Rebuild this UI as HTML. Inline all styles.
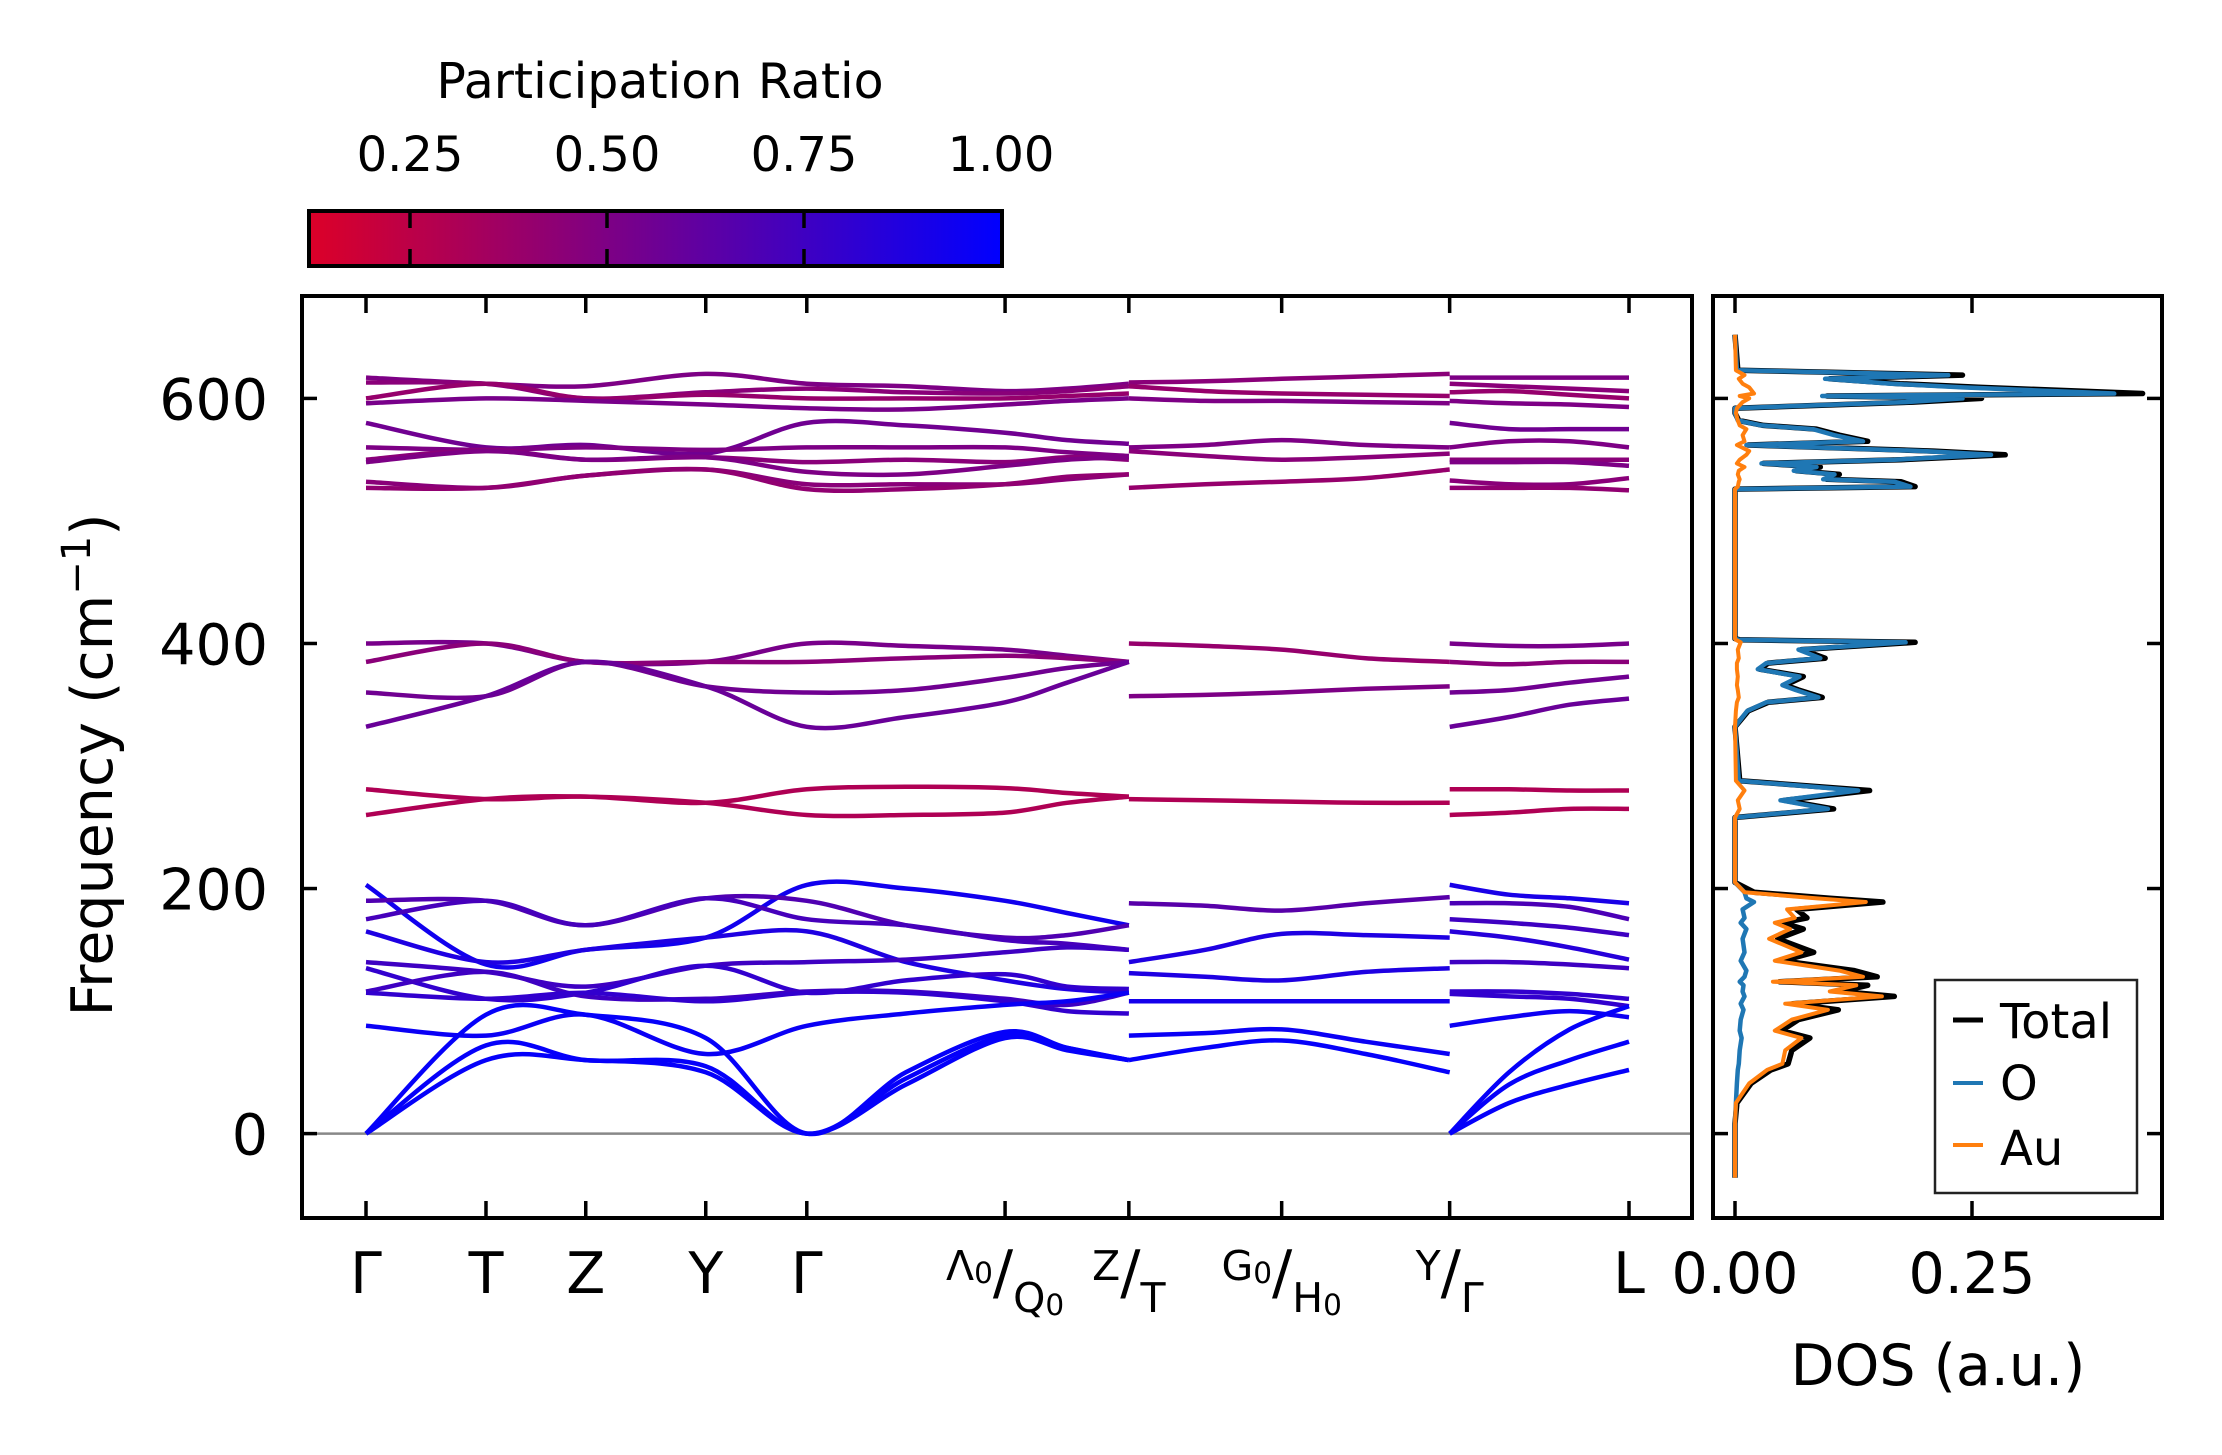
<!DOCTYPE html>
<html><head><meta charset="utf-8"><style>
html,body{margin:0;padding:0;background:#fff}
svg{display:block;font-family:"DejaVu Sans","Liberation Sans",sans-serif}
</style></head><body>
<svg id="fig" width="2222" height="1455" viewBox="0 0 2222 1455" xmlns="http://www.w3.org/2000/svg">
<defs>
<linearGradient id="cmap" x1="0" x2="1" y1="0" y2="0">
<stop offset="0" stop-color="#dc0028"/><stop offset="1" stop-color="#0000ff"/>
</linearGradient>
<clipPath id="mainclip"><rect x="302" y="296" width="1390" height="922"/></clipPath>
<clipPath id="dosclip"><rect x="1713" y="296" width="449" height="922"/></clipPath>
</defs>
<g id="colorbar">
<text x="660" y="98" font-size="49" text-anchor="middle">Participation Ratio</text>
<rect x="309" y="211" width="693" height="55" fill="url(#cmap)" stroke="#000" stroke-width="4"/>
<g id="cbticks"></g>
</g>
<g id="main">
<line x1="302" x2="1692" id="zeroline" stroke="#888" stroke-width="2.5"/>
<g id="bands" clip-path="url(#mainclip)"></g>
<rect x="302" y="296" width="1390" height="922" fill="none" stroke="#000" stroke-width="4"/>
<g id="mainticks"></g>
<text transform="translate(112,765) rotate(-90)" font-size="57" text-anchor="middle">Frequency (cm<tspan dy="-22" font-size="40">−1</tspan><tspan dy="22">)</tspan></text>
</g>
<g id="dos">
<g id="doslines" clip-path="url(#dosclip)"></g>
<rect x="1713" y="296" width="449" height="922" fill="none" stroke="#000" stroke-width="4"/>
<g id="dosticks"></g>
<text x="1938" y="1385" font-size="57" text-anchor="middle">DOS (a.u.)</text>
<g>
<rect x="1935" y="980" width="202" height="213" fill="#fff" stroke="#222" stroke-width="2.5"/>
<line x1="1953" x2="1983" y1="1020" y2="1020" stroke="#000" stroke-width="5"/>
<text x="2000" y="1038" font-size="48">Total</text>
<line x1="1953" x2="1983" y1="1083" y2="1083" stroke="#1f77b4" stroke-width="4"/>
<text x="2000" y="1100" font-size="48">O</text>
<line x1="1953" x2="1983" y1="1145" y2="1145" stroke="#ff7f0e" stroke-width="4"/>
<text x="2000" y="1165" font-size="48">Au</text>
</g>
</g>
</svg>
<script>
// ---- data ----
const kTicks = [0,0.095,0.174,0.269,0.349,0.506,0.604,0.725,0.858,1.0];
const kTickNames = ['Γ','T','Z','Y','Γ','Λ0/Q0','Z/T','G0/H0','Y/Γ','L'];
const yTicks = [0,200,400,600];
const cbTicks = [0.25,0.5,0.75,1.0];
const dosTicks = [0,0.25];

const segAk = [0,0.095,0.174,0.269,0.349,0.4275,0.506,0.555,0.604];
const segAbands = [
[617,612,610,620,612,610,606,608,612],[613,612,600,605,608,605,604,606,610],
[600,612,600,603,600,600,600,602,604],[596,600,598,595,592,591,595,598,600],
[580,560,562,555,580,578,572,566,563],[560,558,560,558,560,560,560,556,553],
[550,558,550,552,548,550,548,552,550],[548,557,550,552,540,538,545,550,552],
[532,527,537,542,530,530,530,534,538],[527,527,537,542,526,526,530,536,538],
[400,400,385,385,400,398,395,390,385],[385,400,385,385,385,388,390,388,385],
[360,357,385,365,360,362,372,380,385],[332,357,385,365,332,340,352,368,385],
[281,273,275,270,281,283,282,278,275],[260,273,275,270,260,260,262,270,275],
[203,138,150,160,203,200,190,180,170],[190,190,170,192,190,170,160,162,170],
[175,190,170,192,175,170,158,155,150],[165,140,150,160,165,140,125,118,115],
[140,132,120,137,140,142,148,152,150],[135,110,115,137,115,125,130,120,118],
[116,132,112,110,116,116,110,105,115],[115,110,115,108,115,115,108,100,98],
[88,80,97,65,88,98,105,108,115],[0,97,97,78,0,50,83,70,60],
[0,72,60,55,0,45,80,70,60],[0,60,60,50,0,40,78,68,60]];
const segApr = [0.5,0.45,0.4,0.52,0.55,0.5,0.45,0.5,0.45,0.42,0.52,0.45,0.55,0.58,0.3,0.3,
0.93,0.68,0.72,0.88,0.75,0.8,0.75,0.8,0.96,0.98,0.98,0.98];

const segBk = [0.604,0.6645,0.725,0.7915,0.858];
const segBbands = [
[613,614,616,618,620],[610,606,604,603,602],[600,598,598,597,596],
[560,562,566,562,560],[557,553,550,552,555],[527,530,532,535,542],
[400,398,395,388,385],[357,358,360,363,365],[273,272,271,270,270],
[188,186,182,188,193],[140,150,163,162,160],[131,128,125,132,135],
[108,108,108,108,108],[80,82,85,75,65],[60,70,76,65,50]];
const segBpr = [0.45,0.4,0.5,0.5,0.45,0.4,0.4,0.5,0.3,0.65,0.88,0.88,0.92,0.96,0.98];

const segCk = [0.858,0.905,0.953,1.0];
const segCbands = [
[617,617,617,617],[612,610,608,606],[605,606,603,600],[598,596,595,593],
[580,575,575,575],[560,565,565,560],[550,550,550,550],[548,548,548,545],
[533,530,530,535],[527,527,527,525],[400,398,398,400],[385,383,385,385],
[360,362,368,373],[332,340,350,355],[281,281,280,280],[260,262,265,265],
[203,195,192,188],[188,188,185,175],[175,172,168,162],[165,160,152,142],
[140,140,138,135],[116,116,114,110],[114,112,110,104],[88,95,100,95],
[0,50,85,104],[0,40,60,75],[0,25,40,52]];
const segCpr = [0.5,0.45,0.4,0.5,0.55,0.5,0.45,0.5,0.45,0.42,0.52,0.45,0.55,0.58,0.3,0.3,
0.9,0.7,0.75,0.85,0.75,0.8,0.8,0.95,0.98,0.98,0.98];

const dosFreq = [652,623,619,616,612,609,604,602,600,597,592,588,582,578,575,570,565,562,557,554,550,547,544,541,538,534,532,528,526,404,403,401,395,388,384,379,373,366,362,356,352,345,332,288,280,272,265,258,205,197,192,189,183,176,172,167,159,148,141,133,128,124,121,116,112,106,101,93,84,78,68,57,52,41,25,8,-36];
const dosTotal = [0,.003,.24,.10,.174,.26,.43,.097,.26,.188,0,0,.004,.03,.086,.11,.14,.014,.21,.285,.175,.03,.09,.065,.11,.097,.175,.19,0,0,.005,.19,.07,.095,.035,.026,.072,.053,.067,.092,.035,.014,0,.005,.142,.052,.104,0,0,.02,.1,.156,.065,.076,.05,.072,.045,.083,.05,.126,.15,.047,.14,.112,.168,.061,.109,.067,.049,.079,.06,.056,.038,.017,.002,0,0];
const dosO = [0,.002,.225,.095,.165,.24,.40,.092,.24,.18,0,0,.003,.028,.082,.105,.135,.012,.2,.27,.168,.028,.086,.062,.105,.093,.168,.185,0,0,.004,.18,.067,.09,.033,.024,.068,.05,.064,.088,.033,.013,0,.004,.13,.048,.098,0,0,.01,.012,.02,.008,.01,.006,.012,.008,.01,.006,.012,.01,.005,.009,.008,.01,.006,.009,.006,.005,.007,.005,.004,.003,.002,.001,0,0];
const dosAu = [0,.001,.01,.004,.008,.015,.02,.005,.015,.008,.002,.001,.003,.005,.012,.008,.01,.002,.015,.012,.005,.002,.01,.004,.003,.005,.004,.003,0,0,.001,.006,.003,.004,.002,.002,.003,.002,.003,.004,.002,.001,0,.001,.01,.003,.005,0,0,.01,.085,.138,.055,.063,.042,.058,.036,.07,.042,.11,.135,.04,.128,.1,.155,.053,.098,.06,.042,.07,.053,.05,.034,.015,.001,0,0];

// ---- scales ----
const xK = k => 366 + k*1263;
const yF = f => 1133.6 - f*1.2253;
const xD = v => 1735 + v*948;
const xCB = p => 1001 - (1-p)*788;
function prColor(p){
  const t = Math.max(0,Math.min(1,(p-0.12)/0.88));
  const r = Math.round(220*(1-t)), g = 0, b = Math.round(40+(215)*t);
  return `rgb(${r},${g},${b})`;
}
const NS='http://www.w3.org/2000/svg';
function mk(tag, attrs, parent){
  const e=document.createElementNS(NS,tag);
  for(const k in attrs) e.setAttribute(k,attrs[k]);
  parent.appendChild(e); return e;
}
function smoothPath(pts){
  let d=`M${pts[0][0].toFixed(1)},${pts[0][1].toFixed(1)}`;
  for(let i=0;i<pts.length-1;i++){
    const p0=pts[Math.max(0,i-1)],p1=pts[i],p2=pts[i+1],p3=pts[Math.min(pts.length-1,i+2)];
    const c1=[p1[0]+(p2[0]-p0[0])/6, p1[1]+(p2[1]-p0[1])/6];
    const c2=[p2[0]-(p3[0]-p1[0])/6, p2[1]-(p3[1]-p1[1])/6];
    d+=` C${c1[0].toFixed(1)},${c1[1].toFixed(1)} ${c2[0].toFixed(1)},${c2[1].toFixed(1)} ${p2[0].toFixed(1)},${p2[1].toFixed(1)}`;
  }
  return d;
}
const zl=document.getElementById('zeroline');
zl.setAttribute('y1',yF(0)); zl.setAttribute('y2',yF(0));
const bandsG=document.getElementById('bands');
[[segAk,segAbands,segApr,'a'],[segBk,segBbands,segBpr,'b'],[segCk,segCbands,segCpr,'c']].forEach(([ks,bands,pr,s])=>{
  bands.forEach((b,i)=>{
    const pts=b.map((f,j)=>[xK(ks[j]),yF(f)]);
    const p=mk('path',{d:smoothPath(pts),fill:'none',stroke:prColor(pr[i]),'stroke-width':4.5,'stroke-linejoin':'round'},bandsG);
    
    
  });
});
const mt=document.getElementById('mainticks');
yTicks.forEach(v=>{
  const y=yF(v);
  const l=mk('line',{x1:302,x2:317,y1:y,y2:y,stroke:'#000','stroke-width':3.5},mt);
  
  
  const t=mk('text',{x:268,y:y+21,'font-size':57,'text-anchor':'end'},mt);
  t.textContent=String(v);
  
  
});
kTicks.forEach((k,i)=>{
  const x=xK(k);
  const l1=mk('line',{x1:x,x2:x,y1:296,y2:313,stroke:'#000','stroke-width':3.5},mt);
  
  
  const l2=mk('line',{x1:x,x2:x,y1:1218,y2:1201,stroke:'#000','stroke-width':3.5},mt);
  
  
  const name=kTickNames[i];
  const t=mk('text',{x:x,y:1293,'font-size':57,'text-anchor':'middle'},mt);
  
  
  if(name.indexOf('/')<0){ t.textContent=name; }
  else{
    const [a,b]=name.split('/');
    const sub = (str,fs,dy)=>{
      const m=str.match(/^(.)(0?)$/);
      const s1=mk('tspan',{'font-size':fs,dy:dy},t); s1.textContent=m[1];
      if(m[2]){ const s2=mk('tspan',{'font-size':fs*0.72,dy:3},t); s2.textContent='0'; return 3;}
      return 0;
    };
    let off=sub(a,41,-13);
    const sl=mk('tspan',{'font-size':60,dy:13-off},t); sl.textContent='/';
    let off2=sub(b,41,19);
    const end=mk('tspan',{'font-size':10,dy:-19-off2},t); end.textContent=' ';
  }
});
const cbt=document.getElementById('cbticks');
cbTicks.forEach(v=>{
  const x=xCB(v);
  if(v<1){
    const a=mk('line',{x1:x,x2:x,y1:211,y2:228,stroke:'#000','stroke-width':3.5},cbt);
    
    
    const b=mk('line',{x1:x,x2:x,y1:249,y2:266,stroke:'#000','stroke-width':3.5},cbt);
    
    
  }
  const t=mk('text',{x:x,y:171,'font-size':48,'text-anchor':'middle'},cbt);
  t.textContent=v.toFixed(2);
  
  
});
const dl=document.getElementById('doslines');
function dosLine(vals,color,w,name){
  const d=vals.map((v,i)=>(i?'L':'M')+xD(v).toFixed(1)+','+yF(dosFreq[i]).toFixed(1)).join(' ');
  const p=mk('path',{d:d,fill:'none',stroke:color,'stroke-width':w,'stroke-linejoin':'round'},dl);
  
  
}
dosLine(dosTotal,'#000',5.5,'dos-total-line');
dosLine(dosO,'#1f77b4',4.5,'dos-o-line');
dosLine(dosAu,'#ff7f0e',4,'dos-au-line');
const dt=document.getElementById('dosticks');
yTicks.forEach(v=>{
  const y=yF(v);
  const a=mk('line',{x1:1713,x2:1728,y1:y,y2:y,stroke:'#000','stroke-width':3.5},dt);
  
  
  const b=mk('line',{x1:2147,x2:2162,y1:y,y2:y,stroke:'#000','stroke-width':3.5},dt);
  
  
});
dosTicks.forEach(v=>{
  const x=xD(v);
  const a=mk('line',{x1:x,x2:x,y1:296,y2:313,stroke:'#000','stroke-width':3.5},dt);
  
  
  const b=mk('line',{x1:x,x2:x,y1:1218,y2:1201,stroke:'#000','stroke-width':3.5},dt);
  
  
  const t=mk('text',{x:x,y:1293,'font-size':57,'text-anchor':'middle'},dt);
  t.textContent=v.toFixed(2);
  
  
});
</script>
</body></html>
